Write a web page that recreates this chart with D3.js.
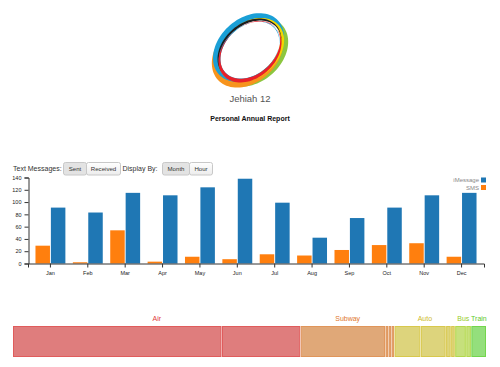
<!DOCTYPE html>
<html><head><meta charset="utf-8">
<script src="https://cdn.jsdelivr.net/npm/d3@7"></script>
<style>body{margin:0;background:#fff;}svg{display:block;font-family:"Liberation Sans",Arial,sans-serif;}</style>
</head><body>
<svg id="chart" width="500" height="367"></svg>
<script>
const months = ["Jan","Feb","Mar","Apr","May","Jun","Jul","Aug","Sep","Oct","Nov","Dec"];
const series = ["SMS","iMessage"];
const smsValues = [29,2,54,3,11,7,15,13,22,30,33,11];
const iMessageValues = [91,83,115,111,124,138,99,42,74,91,111,115];
const yTicks = [0,20,40,60,80,100,120,140];
const modes = ["Air","Subway","Auto","Bus","Train"];
const modeSegments = [[207,78],[84,3,3,3],[26,25,5,4],[11,5],[15]];
const modeFill = ["#df7d7d","#e0a878","#ddd47c","#c6e07c","#94df7c"];
const modeStroke = ["#e05c5c","#e0955a","#d8c84c","#b3d84c","#73d64c"];
const modeText = ["#e03a3a","#e0762e","#cdb92a","#96cc2a","#5cc82a"];
const logoRings = ["#8cc63f","#f7941d","#1a9fd6","#f2d600","#1e1e1e","#1a9fd6","#e8202a"];

const svg = d3.select("#chart");

// ---- logo ----
function ellipsePath(cx, cy, rx, ry, rot) {
  const p = d3.path();
  const a = rot * Math.PI / 180;
  for (let i = 0; i <= 90; i++) {
    const t = i / 90 * 2 * Math.PI;
    const x = rx * Math.cos(t), y = ry * Math.sin(t);
    const X = cx + x * Math.cos(a) - y * Math.sin(a);
    const Y = cy + x * Math.sin(a) + y * Math.cos(a);
    if (i === 0) p.moveTo(X, Y); else p.lineTo(X, Y);
  }
  p.closePath();
  return p.toString();
}
const logo = svg.append("g");
const ROT = -42;
const ringDefs = [
  {c:0, cx:252.5, cy:52, rx:40, ry:29.5, dx:-2.6, dy:-2.6, s:3},
  {c:1, cx:247.5, cy:53, rx:40, ry:29.5, dx:2.8, dy:-2.8, s:3},
  {c:2, cx:248.5, cy:47.5, rx:40, ry:29, dx:2.6, dy:2.6, s:3},
  {c:3, cx:251, cy:50, rx:37.2, ry:27.2, dx:-1.8, dy:-0.8, s:1.9},
  {c:4, cx:249.5, cy:49.5, rx:36, ry:26.2, dx:0.9, dy:0.9, s:1.1},
  {c:5, cx:249, cy:51, rx:34.2, ry:24.8, dx:1, dy:-1, s:0.8},
  {c:6, cx:250, cy:52, rx:35.4, ry:25.8, dx:0.3, dy:-2.2, s:1.6}
];
ringDefs.forEach(r => {
  logo.append("path")
    .attr("d", ellipsePath(r.cx, r.cy, r.rx, r.ry, ROT) + ellipsePath(r.cx + r.dx, r.cy + r.dy, r.rx - r.s, r.ry - r.s, ROT))
    .attr("fill", logoRings[r.c])
    .attr("fill-rule", "evenodd");
});
svg.append("text").attr("x", 250).attr("y", 102).attr("text-anchor", "middle")
  .attr("font-size", 9.5).attr("fill", "#555").text("Jehiah 12");
svg.append("text").attr("x", 250).attr("y", 121).attr("text-anchor", "middle")
  .attr("font-size", 7).attr("font-weight", "bold").attr("fill", "#111").text("Personal Annual Report");

// ---- controls ----
const defs = svg.append("defs");
const gUp = defs.append("linearGradient").attr("id","btnUp").attr("x1",0).attr("y1",0).attr("x2",0).attr("y2",1);
gUp.append("stop").attr("offset","0%").attr("stop-color","#ffffff");
gUp.append("stop").attr("offset","100%").attr("stop-color","#ececec");
function label(x, y, t) {
  svg.append("text").attr("x", x).attr("y", y).attr("font-size", 7).attr("fill", "#333").text(t);
}
function btnGroup(x0, widths, texts, activeIdx) {
  let x = x0;
  const g = svg.append("g");
  widths.forEach((w, i) => {
    g.append("rect").attr("x", x + 0.5).attr("y", 162.5).attr("width", w).attr("height", 12.5)
      .attr("rx", 2).attr("fill", i === activeIdx ? "#e3e3e3" : "url(#btnUp)").attr("stroke", "#c8c8c8");
    g.append("text").attr("x", x + 0.5 + w / 2).attr("y", 171.2).attr("text-anchor", "middle")
      .attr("font-size", 6.1).attr("fill", "#333").text(texts[i]);
    x += w;
  });
}
label(13, 171, "Text Messages:");
btnGroup(63, [23, 34], ["Sent", "Received"], 0);
label(122.5, 171, "Display By:");
btnGroup(162, [27, 23], ["Month", "Hour"], 0);

// ---- bar chart ----
const x0 = d3.scaleBand().domain(months).range([28, 484]).padding(0.2);
const x1 = d3.scaleBand().domain(series).range([0, x0.bandwidth()]).paddingInner(0.06);
const y = d3.scaleLinear().domain([0, 140]).range([263.5, 177.5]);
const color = d3.scaleOrdinal().domain(series).range(["#ff7f0e", "#1f77b4"]);
const rows = months.map((m, i) => ({month: m, SMS: smsValues[i], iMessage: iMessageValues[i]}));

const bars = svg.append("g");
bars.selectAll("g").data(rows).join("g")
  .attr("transform", d => `translate(${x0(d.month)},0)`)
  .selectAll("rect").data(d => series.map(s => ({key: s, value: d[s]}))).join("rect")
  .attr("x", d => x1(d.key)).attr("width", x1.bandwidth())
  .attr("y", d => y(d.value)).attr("height", d => y(0) - y(d.value))
  .attr("fill", d => color(d.key));

const xAxis = svg.append("g").attr("transform", "translate(0,263.5)")
  .call(d3.axisBottom(x0).tickSize(4).tickSizeOuter(4));
xAxis.selectAll("text").attr("font-size", 5.5).attr("fill", "#222").attr("dy", "0.8em");
xAxis.selectAll("path,line").attr("stroke", "#333");
xAxis.attr("font-family", null);

const yAxis = svg.append("g").attr("transform", "translate(28.5,0)")
  .call(d3.axisLeft(y).tickValues(yTicks).tickSize(4).tickSizeOuter(4));
yAxis.selectAll("text").attr("font-size", 5.5).attr("fill", "#222");
yAxis.selectAll("path,line").attr("stroke", "#333");
yAxis.attr("font-family", null);

const legendSeries = ["iMessage", "SMS"];
const leg = svg.append("g");
legendSeries.forEach((s, i) => {
  leg.append("rect").attr("x", 481).attr("y", 177.5 + i * 7.5).attr("width", 5).attr("height", 5).attr("fill", color(s));
  leg.append("text").attr("x", 479).attr("y", 182 + i * 7.5).attr("text-anchor", "end")
    .attr("font-size", 6).attr("fill", "#888").text(s);
});

// ---- transport strip ----
const total = d3.sum(modeSegments.flat());
const xs = d3.scaleLinear().domain([0, total]).range([13, 486.5]);
let acc = 0;
const strip = svg.append("g");
modes.forEach((m, gi) => {
  const start = acc;
  modeSegments[gi].forEach(v => {
    strip.append("rect")
      .attr("x", xs(acc) + 0.5).attr("y", 326.5)
      .attr("width", Math.max(0.5, xs(acc + v) - xs(acc) - 1.5)).attr("height", 30)
      .attr("fill", modeFill[gi]).attr("stroke", modeStroke[gi]).attr("stroke-width", 1);
    acc += v;
  });
  strip.append("text").attr("x", (xs(start) + xs(acc)) / 2).attr("y", 321)
    .attr("text-anchor", "middle").attr("font-size", 7).attr("fill", modeText[gi]).text(m);
});
</script>
</body></html>
